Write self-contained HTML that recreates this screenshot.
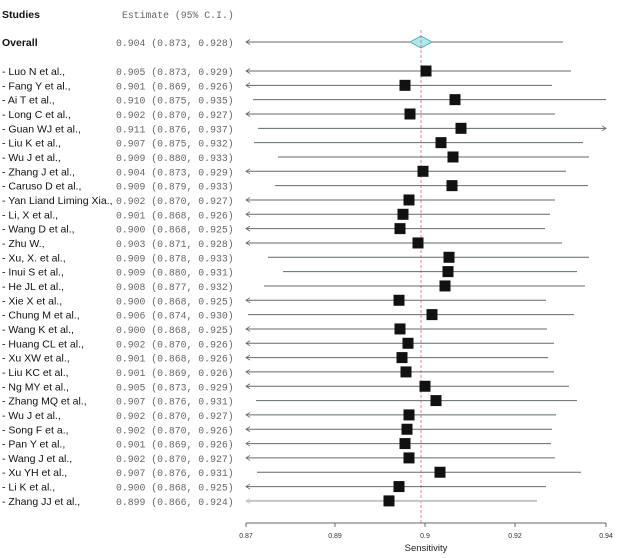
<!DOCTYPE html>
<html><head><meta charset="utf-8"><style>
body{margin:0;background:#fff}
svg{display:block}
.l{font-family:"Liberation Sans",Arial,sans-serif;font-size:10.5px;fill:#111}
.m{font-family:"Liberation Mono",monospace;font-size:9.8px;fill:#666}
</style></head><body>
<svg width="619" height="558" viewBox="0 0 619 558" xmlns="http://www.w3.org/2000/svg">
<text x="2" y="18" class="l" font-weight="bold">Studies</text>
<text x="122" y="18" class="m">Estimate (95% C.I.)</text>
<text x="2" y="46" class="l" font-weight="bold">Overall</text>
<text x="116" y="46" class="m">0.904 (0.873, 0.928)</text>
<line x1="246" y1="42" x2="563" y2="42" stroke="#5f6b6b" stroke-width="1"/>
<path d="M250 39.5 L246 42 L250 44.5" fill="none" stroke="#5f6b6b" stroke-width="0.8"/>
<polygon points="410,42 421,36 432,42 421,48" fill="#aee8e8" stroke="#4aa" stroke-width="0.8"/>
<line x1="421" y1="30" x2="421" y2="523" stroke="#e0609a" stroke-width="0.8" stroke-dasharray="3,2"/>
<g id="rows"></g>
<line x1="246" y1="523" x2="606" y2="523" stroke="#5f6b6b"/>
<g stroke="#5f6b6b"><line x1="246" y1="523" x2="246" y2="527"/><line x1="335" y1="523" x2="335" y2="527"/><line x1="425" y1="523" x2="425" y2="527"/><line x1="515" y1="523" x2="515" y2="527"/><line x1="606" y1="523" x2="606" y2="527"/></g>
<g font-family="Liberation Sans,Arial,sans-serif" font-size="7px" fill="#333" text-anchor="middle">
<text x="246" y="538">0.87</text><text x="335" y="538">0.89</text><text x="425" y="538">0.9</text><text x="515" y="538">0.92</text><text x="606" y="538">0.94</text></g>
<text x="426" y="551" text-anchor="middle" font-family="Liberation Sans,Arial,sans-serif" font-size="9.5px" fill="#222">Sensitivity</text>
</svg>
<script>
var d=[
["Luo N et al.,","0.905 (0.873, 0.929)",426,0,571],
["Fang Y et al.,","0.901 (0.869, 0.926)",405,0,552],
["Ai T et al.,","0.910 (0.875, 0.935)",455,253,606],
["Long C et al.,","0.902 (0.870, 0.927)",410,0,555],
["Guan WJ et al.,","0.911 (0.876, 0.937)",461,258,-606],
["Liu K et al.,","0.907 (0.875, 0.932)",441,254,583],
["Wu J et al.,","0.909 (0.880, 0.933)",453,278,589],
["Zhang J et al.,","0.904 (0.873, 0.929)",423,0,566],
["Caruso D et al.,","0.909 (0.879, 0.933)",452,275,588],
["Yan Liand Liming Xia.,","0.902 (0.870, 0.927)",409,0,555],
["Li, X et al.,","0.901 (0.868, 0.926)",403,0,550],
["Wang D et al.,","0.900 (0.868, 0.925)",400,0,545],
["Zhu W.,","0.903 (0.871, 0.928)",418,0,562],
["Xu, X. et al.,","0.909 (0.878, 0.933)",449,268,589],
["Inui S et al.,","0.909 (0.880, 0.931)",448,283,577],
["He JL et al.,","0.908 (0.877, 0.932)",445,264,585],
["Xie X et al.,","0.900 (0.868, 0.925)",399,0,546],
["Chung M et al.,","0.906 (0.874, 0.930)",432,248,574],
["Wang K et al.,","0.900 (0.868, 0.925)",400,0,547],
["Huang CL et al.,","0.902 (0.870, 0.926)",408,0,554],
["Xu XW et al.,","0.901 (0.868, 0.926)",402,0,548],
["Liu KC et al.,","0.901 (0.869, 0.926)",406,0,554],
["Ng MY et al.,","0.905 (0.873, 0.929)",425,0,569],
["Zhang MQ et al.,","0.907 (0.876, 0.931)",436,256,577],
["Wu J et al.,","0.902 (0.870, 0.927)",409,0,556],
["Song F et a.,","0.902 (0.870, 0.926)",407,0,552],
["Pan Y et al.,","0.901 (0.869, 0.926)",405,0,551],
["Wang J et al.,","0.902 (0.870, 0.927)",409,0,555],
["Xu YH et al.,","0.907 (0.876, 0.931)",440,257,581],
["Li K et al.,","0.900 (0.868, 0.925)",399,0,546],
["Zhang JJ et al.,","0.899 (0.866, 0.924)",389,0,537]];
var s="";
d.forEach(function(r,i){
 var y=71+i*14.33, st=r[3]||246, en=Math.abs(r[4]);
 var c=i==30?"#bfc8c6":"#5f6b6b", w=i==30?2:1;
 s+='<text x="2" y="'+(y+4)+'" class="l">- '+r[0]+'</text>';
 s+='<text x="116" y="'+(y+4)+'" class="m">'+r[1]+'</text>';
 s+='<line x1="'+st+'" y1="'+y+'" x2="'+en+'" y2="'+y+'" stroke="'+c+'" stroke-width="'+w+'"/>';
 if(!r[3]) s+='<path d="M250 '+(y-2.5)+' L246 '+y+' L250 '+(y+2.5)+'" fill="none" stroke="'+c+'" stroke-width="0.8"/>';
 if(r[4]<0) s+='<path d="M'+(en-4)+' '+(y-2.5)+' L'+en+' '+y+' L'+(en-4)+' '+(y+2.5)+'" fill="none" stroke="'+c+'" stroke-width="0.8"/>';
 s+='<rect x="'+(r[2]-5.5)+'" y="'+(y-5.5)+'" width="11" height="11" fill="#111"/>';
});
document.getElementById("rows").innerHTML=s;
</script>
</body></html>
